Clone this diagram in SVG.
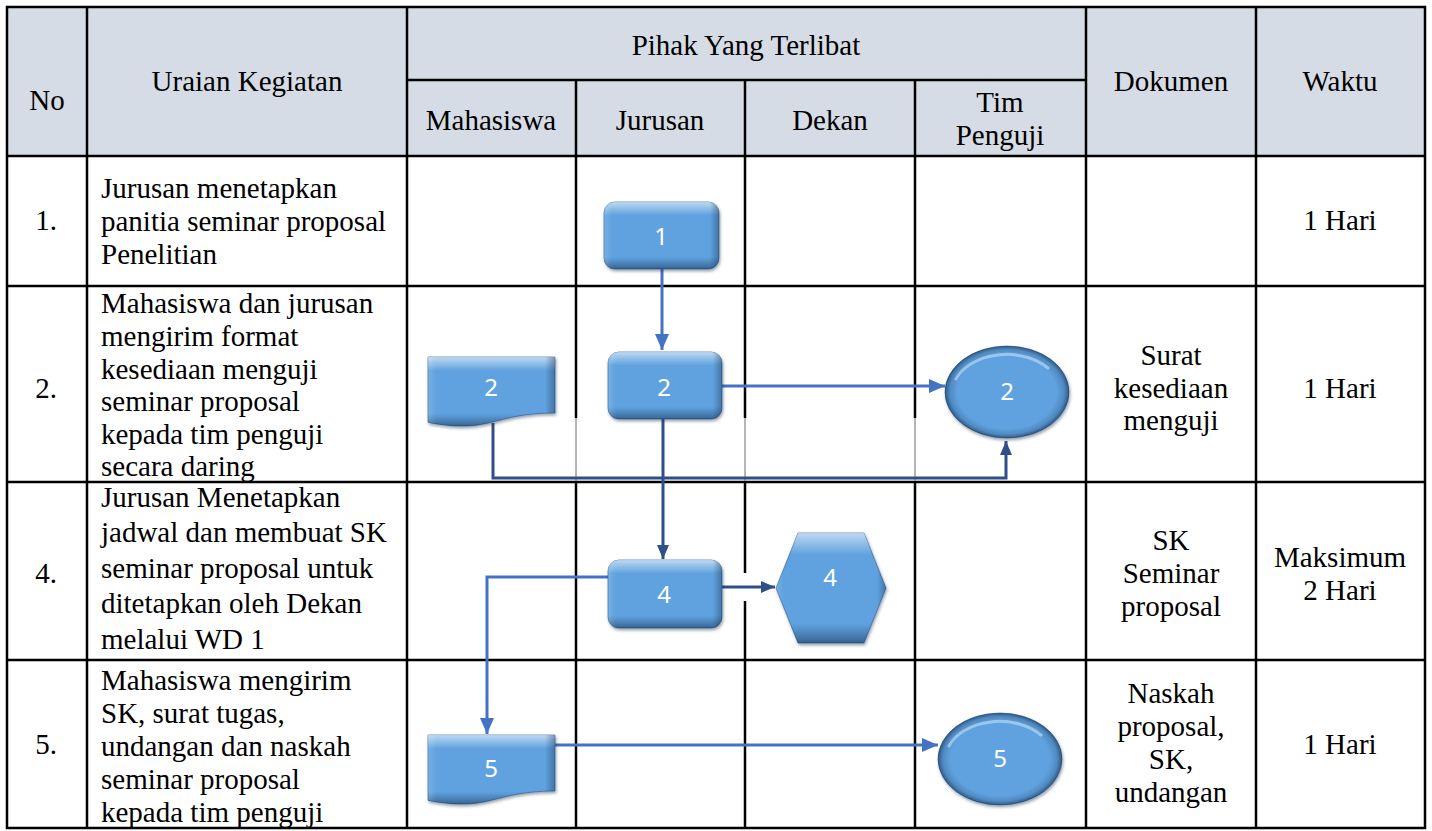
<svg xmlns="http://www.w3.org/2000/svg" xmlns:xlink="http://www.w3.org/1999/xlink" width="1432" height="831" viewBox="0 0 1432 831">
<defs>
<style>
.t{font-family:"Liberation Serif","Times New Roman",serif;font-size:29px;fill:#000}
.c{text-anchor:middle}
.n{font-family:"Noto Sans","Open Sans",sans-serif;font-size:24px;fill:#fff;text-anchor:middle}
.g line,.g rect{stroke:#000;stroke-width:2.5;fill:none}
.thin{stroke:#6a6a6a;stroke-width:1}
.cb{fill:none;stroke:#4472C4;stroke-width:3}
.cd{fill:none;stroke:#2F4F8A;stroke-width:3}
.base{fill:#5FA2DF;stroke:#2E5B8A;stroke-width:1;stroke-opacity:0.6}
.ov{fill:url(#ov)}
.oh{fill:url(#oh)}
.oe{fill:url(#oe)}
.hl{fill:none;stroke:#C4E3FB;stroke-width:3;stroke-opacity:0.6;stroke-linecap:round}
</style>
<linearGradient id="ov" x1="0" y1="0" x2="0" y2="1">
<stop offset="0" stop-color="#fff" stop-opacity="0.6"/>
<stop offset="0.07" stop-color="#fff" stop-opacity="0.38"/>
<stop offset="0.16" stop-color="#fff" stop-opacity="0.12"/>
<stop offset="0.2" stop-color="#fff" stop-opacity="0"/>
<stop offset="0.82" stop-color="#0a1e3c" stop-opacity="0"/>
<stop offset="0.88" stop-color="#0a1e3c" stop-opacity="0.14"/>
<stop offset="0.96" stop-color="#0a1e3c" stop-opacity="0.35"/>
<stop offset="1" stop-color="#0a1e3c" stop-opacity="0.5"/>
</linearGradient>
<linearGradient id="oh" x1="0" y1="0" x2="1" y2="0">
<stop offset="0" stop-color="#fff" stop-opacity="0.15"/>
<stop offset="0.07" stop-color="#fff" stop-opacity="0"/>
<stop offset="0.92" stop-color="#0a1e3c" stop-opacity="0"/>
<stop offset="1" stop-color="#0a1e3c" stop-opacity="0.35"/>
</linearGradient>
<radialGradient id="oe" cx="0.5" cy="0.5" r="0.5">
<stop offset="0" stop-color="#0a1e3c" stop-opacity="0"/>
<stop offset="0.8" stop-color="#0a1e3c" stop-opacity="0"/>
<stop offset="0.92" stop-color="#0a1e3c" stop-opacity="0.18"/>
<stop offset="1" stop-color="#0a1e3c" stop-opacity="0.55"/>
</radialGradient>
<filter id="sh" x="-10%" y="-10%" width="130%" height="140%">
<feDropShadow dx="1" dy="2" stdDeviation="1.5" flood-color="#1b2d45" flood-opacity="0.45"/>
</filter>
<marker id="ab" markerUnits="userSpaceOnUse" markerWidth="16" markerHeight="16" viewBox="0 0 16 16" refX="16" refY="8" orient="auto"><path d="M0,1 L16,8 L0,15 Z" fill="#4472C4"/></marker>
<marker id="ad" markerUnits="userSpaceOnUse" markerWidth="14" markerHeight="14" viewBox="0 0 14 14" refX="14" refY="7" orient="auto"><path d="M0,1 L14,7 L0,13 Z" fill="#2F4F8A"/></marker>
<rect id="s1" x="604" y="202" width="115" height="67" rx="11"/>
<rect id="s2" x="608" y="352" width="114" height="67" rx="11"/>
<rect id="s4" x="608" y="560" width="114" height="68" rx="11"/>
<path id="d2" d="M428,357 H555 V413 C491.5,413 491.5,434.5 428,422.4 Z"/>
<path id="d5" d="M428,735 H555 V791 C491.5,791 491.5,812.5 428,800.4 Z"/>
<path id="h4" d="M776,588 L798,533 H864 L886,588 L864,643 H798 Z"/>
<ellipse id="e2" cx="1007" cy="392" rx="62" ry="46"/>
<ellipse id="e5" cx="1000" cy="759" rx="62" ry="46"/>
</defs>

<rect x="7" y="7" width="1418" height="149" fill="#D6DCE5"/>

<g id="grid" class="g">
<rect x="7" y="7" width="1418" height="821"/>
<line x1="87" y1="7" x2="87" y2="828"/>
<line x1="407" y1="7" x2="407" y2="828"/>
<line x1="1086" y1="7" x2="1086" y2="828"/>
<line x1="1256" y1="7" x2="1256" y2="828"/>
<line x1="407" y1="80" x2="1086" y2="80"/>
<line x1="7" y1="156" x2="1425" y2="156"/>
<line x1="7" y1="286" x2="1425" y2="286"/>
<line x1="7" y1="482" x2="1425" y2="482"/>
<line x1="7" y1="660" x2="1425" y2="660"/>
<line x1="576" y1="80" x2="576" y2="418"/>
<line x1="576" y1="481" x2="576" y2="828"/>
<line x1="745" y1="80" x2="745" y2="418"/>
<line x1="745" y1="481" x2="745" y2="573"/>
<line x1="745" y1="601" x2="745" y2="828"/>
<line x1="915" y1="80" x2="915" y2="418"/>
<line x1="915" y1="481" x2="915" y2="828"/>
</g>
<g id="grid-thin" class="thin">
<line x1="576" y1="418" x2="576" y2="481"/>
<line x1="745" y1="418" x2="745" y2="481"/>
<line x1="915" y1="418" x2="915" y2="481"/>
</g>

<g id="header">
<text class="t c" x="47" y="110">No</text>
<text class="t c" x="247" y="91">Uraian Kegiatan</text>
<text class="t c" x="746" y="55">Pihak Yang Terlibat</text>
<text class="t c" x="491" y="130">Mahasiswa</text>
<text class="t c" x="660" y="130">Jurusan</text>
<text class="t c" x="830" y="130">Dekan</text>
<text class="t c" x="1000" y="112">Tim</text>
<text class="t c" x="1000" y="145">Penguji</text>
<text class="t c" x="1171" y="91">Dokumen</text>
<text class="t c" x="1340" y="91">Waktu</text>
</g>

<g id="row1">
<text class="t c" x="46" y="230">1.</text>
<text class="t" x="101" y="198">Jurusan menetapkan</text>
<text class="t" x="101" y="231">panitia seminar proposal</text>
<text class="t" x="101" y="264">Penelitian</text>
<text class="t c" x="1340" y="230">1 Hari</text>
</g>
<g id="row2">
<text class="t c" x="46" y="398">2.</text>
<text class="t" x="101" y="313">Mahasiswa dan jurusan</text>
<text class="t" x="101" y="346">mengirim format</text>
<text class="t" x="101" y="379">kesediaan menguji</text>
<text class="t" x="101" y="411">seminar proposal</text>
<text class="t" x="101" y="444">kepada tim penguji</text>
<text class="t" x="101" y="476">secara daring</text>
<text class="t c" x="1171" y="365">Surat</text>
<text class="t c" x="1171" y="398">kesediaan</text>
<text class="t c" x="1171" y="430">menguji</text>
<text class="t c" x="1340" y="398">1 Hari</text>
</g>
<g id="row4">
<text class="t c" x="46" y="583">4.</text>
<text class="t" x="101" y="507">Jurusan Menetapkan</text>
<text class="t" x="101" y="542">jadwal dan membuat SK</text>
<text class="t" x="101" y="578">seminar proposal untuk</text>
<text class="t" x="101" y="613">ditetapkan oleh Dekan</text>
<text class="t" x="101" y="649">melalui WD 1</text>
<text class="t c" x="1171" y="550">SK</text>
<text class="t c" x="1171" y="583">Seminar</text>
<text class="t c" x="1171" y="616">proposal</text>
<text class="t c" x="1340" y="567">Maksimum</text>
<text class="t c" x="1340" y="600">2 Hari</text>
</g>
<g id="row5">
<text class="t c" x="46" y="754">5.</text>
<text class="t" x="101" y="690">Mahasiswa mengirim</text>
<text class="t" x="101" y="723">SK, surat tugas,</text>
<text class="t" x="101" y="756">undangan dan naskah</text>
<text class="t" x="101" y="789">seminar proposal</text>
<text class="t" x="101" y="822">kepada tim penguji</text>
<text class="t c" x="1171" y="703">Naskah</text>
<text class="t c" x="1171" y="736">proposal,</text>
<text class="t c" x="1171" y="769">SK,</text>
<text class="t c" x="1171" y="802">undangan</text>
<text class="t c" x="1340" y="754">1 Hari</text>
</g>

<g id="connectors">
<path class="cb" d="M662,268 V350" marker-end="url(#ab)"/>
<path class="cb" d="M720,386 H945" marker-end="url(#ab)"/>
<path class="cd" d="M493,423 V478 H1006 V441" marker-end="url(#ad)"/>
<path class="cd" d="M663,418 V559" marker-end="url(#ad)"/>
<path class="cb" d="M609,577 H487 V734" marker-end="url(#ab)"/>
<path class="cd" d="M721,587 H775" marker-end="url(#ad)"/>
<path class="cb" d="M554,745 H938" marker-end="url(#ab)"/>
</g>

<g id="node1">
<use xlink:href="#s1" class="base" filter="url(#sh)"/>
<use xlink:href="#s1" class="ov"/>
<use xlink:href="#s1" class="oh"/>
<text class="n" x="661" y="245">1</text>
</g>
<g id="node2-jurusan">
<use xlink:href="#s2" class="base" filter="url(#sh)"/>
<use xlink:href="#s2" class="ov"/>
<use xlink:href="#s2" class="oh"/>
<text class="n" x="664" y="396">2</text>
</g>
<g id="node2-mahasiswa">
<use xlink:href="#d2" class="base" filter="url(#sh)"/>
<use xlink:href="#d2" class="ov"/>
<use xlink:href="#d2" class="oh"/>
<text class="n" x="491" y="396">2</text>
</g>
<g id="node2-penguji">
<use xlink:href="#e2" class="base" filter="url(#sh)"/>
<use xlink:href="#e2" class="oe"/>
<path class="hl" d="M956,379 A54,38 0 0 1 1048,368"/>
<text class="n" x="1007" y="400">2</text>
</g>
<g id="node4-jurusan">
<use xlink:href="#s4" class="base" filter="url(#sh)"/>
<use xlink:href="#s4" class="ov"/>
<use xlink:href="#s4" class="oh"/>
<text class="n" x="664" y="603">4</text>
</g>
<g id="node4-dekan">
<use xlink:href="#h4" class="base" filter="url(#sh)"/>
<use xlink:href="#h4" class="ov"/>
<use xlink:href="#h4" class="oh"/>
<text class="n" x="830" y="586">4</text>
</g>
<g id="node5-mahasiswa">
<use xlink:href="#d5" class="base" filter="url(#sh)"/>
<use xlink:href="#d5" class="ov"/>
<use xlink:href="#d5" class="oh"/>
<text class="n" x="491" y="777">5</text>
</g>
<g id="node5-penguji">
<use xlink:href="#e5" class="base" filter="url(#sh)"/>
<use xlink:href="#e5" class="oe"/>
<path class="hl" d="M949,746 A54,38 0 0 1 1041,735"/>
<text class="n" x="1000" y="767">5</text>
</g>
</svg>
